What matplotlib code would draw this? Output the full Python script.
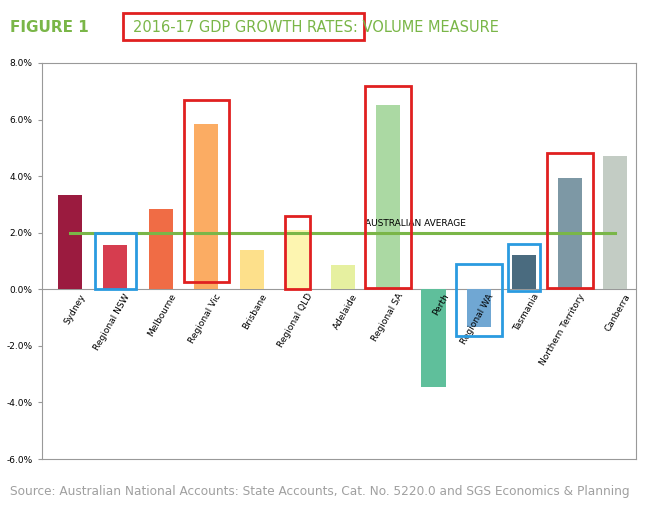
import matplotlib
matplotlib.use('Agg')
import matplotlib.pyplot as plt
from matplotlib.patches import Rectangle

regions = ["Sydney", "Regional NSW", "Melbourne", "Regional Vic", "Brisbane", "Regional QLD",
           "Adelaide", "Regional SA", "Perth", "Regional WA", "Tasmania", "Northern Territory", "Canberra"]
growth = [3.35, 1.55, 2.85, 5.85, 1.4, 2.1, 0.85, 6.5, -3.45, -1.35, 1.2, 3.95, 4.7]
colors = ["#9b1b3f", "#d63d4f", "#f06c45", "#fbac63", "#fde08b", "#fdf5b0", "#e6f0a0",
          "#abd9a3", "#5fbf9b", "#70a7d3", "#4a6b7f", "#7d98a5", "#c3ccc4"]
average = 2.0

# annotation boxes (x centre, width, y0, y1, colour)
boxes = [(1, 0.9, 0.0, 2.0, "#2a9be0"), (3, 1.0, 0.25, 6.7, "#e02020"),
         (5, 0.55, 0.0, 2.6, "#e02020"), (7, 1.0, 0.05, 7.2, "#e02020"),
         (9, 1.0, -1.65, 0.9, "#2a9be0"), (10, 0.7, -0.05, 1.6, "#2a9be0"),
         (11, 1.0, 0.05, 4.8, "#e02020")]

fig = plt.figure(figsize=(6.62, 5.12), dpi=100)
ax = fig.add_axes([0.063, 0.1035, 0.898, 0.7735])
x = range(len(regions))
ax.bar(x, growth, width=0.53, color=colors, zorder=2)
ax.axhline(0, color="#999999", lw=0.8, zorder=1)
ax.plot([0, 12], [average, average], color="#7ab648", lw=2.2, zorder=3)
ax.text(7.6, average + 0.15, "AUSTRALIAN AVERAGE", fontsize=6.5, ha="center", va="bottom", zorder=4)

for cx, w, y0, y1, c in boxes:
    ax.add_patch(Rectangle((cx - w / 2, y0), w, y1 - y0, fill=False, ec=c, lw=2, zorder=5))

for i, name in enumerate(regions):
    ax.text(i + 0.2, -0.1, name, rotation=60, ha="right", va="top", fontsize=6.5,
            rotation_mode="anchor", zorder=4)

ax.set_xlim(-0.62, 12.46)
ax.set_ylim(-6, 8)
ax.set_xticks([])
ax.set_yticks(range(-6, 9, 2))
ax.set_yticklabels([f"{v:.1f}%" for v in range(-6, 9, 2)], fontsize=6.5)
ax.tick_params(axis="y", length=3, color="#999999")
for s in ax.spines.values():
    s.set_color("#999999")
    s.set_linewidth(0.8)

fig.text(10 / 662, 1 - 27 / 512, "FIGURE 1", color="#7ab648", fontsize=11, fontweight="bold", va="center")
fig.text(133 / 662, 1 - 27 / 512, "2016-17 GDP GROWTH RATES: VOLUME MEASURE", color="#7ab648",
         fontsize=10.5, va="center")
fig.patches.append(Rectangle((123 / 662, 1 - 40 / 512), 241 / 662, 27 / 512, fill=False,
                             ec="#e02020", lw=2, transform=fig.transFigure, figure=fig))
fig.text(10 / 662, 1 - 491 / 512,
         "Source: Australian National Accounts: State Accounts, Cat. No. 5220.0 and SGS Economics & Planning",
         color="#a0a0a0", fontsize=8.7, va="center")
fig.savefig("out.png", dpi=100)
